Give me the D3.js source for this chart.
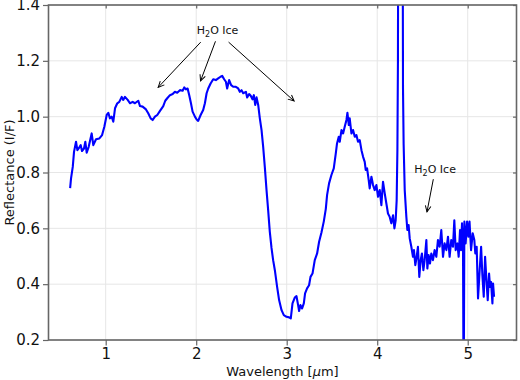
<!DOCTYPE html>
<html><head><meta charset="utf-8">
<script src="https://cdn.jsdelivr.net/npm/d3@7"></script>
<style>
html,body{margin:0;padding:0;background:#fff;}
svg{display:block;font-family:"DejaVu Sans",sans-serif;}
</style></head>
<body>
<svg id="chart" width="520" height="380"></svg>
<script>
const wavelength = [0.607,0.617,0.636,0.65,0.672,0.687,0.709,0.724,0.738,0.76,0.775,0.79,0.812,0.845,0.863,0.893,0.93,0.96,0.985,1.011,1.029,1.047,1.066,1.084,1.103,1.128,1.15,1.177,1.194,1.213,1.243,1.268,1.298,1.323,1.36,1.379,1.408,1.445,1.47,1.497,1.519,1.544,1.57,1.6,1.636,1.658,1.68,1.71,1.74,1.765,1.79,1.82,1.85,1.868,1.886,1.905,1.923,1.942,1.96,1.986,2.005,2.022,2.049,2.077,2.096,2.115,2.133,2.159,2.188,2.217,2.243,2.269,2.287,2.309,2.328,2.342,2.364,2.386,2.409,2.438,2.464,2.482,2.501,2.519,2.549,2.563,2.585,2.604,2.622,2.637,2.652,2.667,2.685,2.703,2.722,2.74,2.758,2.777,2.795,2.813,2.832,2.85,2.869,2.894,2.916,2.943,2.968,2.998,3.027,3.045,3.064,3.089,3.108,3.126,3.137,3.152,3.17,3.189,3.203,3.225,3.247,3.263,3.285,3.31,3.336,3.358,3.384,3.41,3.432,3.446,3.468,3.494,3.52,3.542,3.556,3.575,3.586,3.605,3.623,3.641,3.66,3.671,3.686,3.696,3.715,3.733,3.752,3.77,3.788,3.807,3.826,3.844,3.862,3.873,3.888,3.906,3.917,3.936,3.954,3.972,3.991,4.009,4.028,4.046,4.064,4.083,4.101,4.119,4.138,4.156,4.175,4.19,4.204,4.215,4.223,4.229,4.233,4.28,4.285,4.292,4.304,4.322,4.333,4.347,4.359,4.377,4.395,4.406,4.421,4.436,4.45,4.465,4.48,4.494,4.51,4.524,4.543,4.554,4.568,4.583,4.598,4.616,4.634,4.653,4.671,4.69,4.708,4.727,4.745,4.764,4.782,4.8,4.818,4.837,4.852,4.867,4.886,4.9,4.915,4.926,4.937,4.948,4.953,4.957,4.963,4.977,4.993,5.007,5.02,5.037,5.055,5.073,5.084,5.099,5.114,5.132,5.148,5.162,5.177,5.192,5.207,5.221,5.236,5.247,5.258,5.273,5.28,5.291];
const reflectance = [0.744,0.779,0.82,0.874,0.91,0.88,0.89,0.898,0.877,0.886,0.91,0.871,0.892,0.94,0.898,0.919,0.922,0.934,0.964,1.006,1.014,0.994,1.0,0.982,1.03,1.048,1.053,1.071,1.06,1.071,1.06,1.048,1.053,1.048,1.057,1.038,1.036,1.026,1.012,0.994,0.988,1.0,1.006,1.021,1.038,1.057,1.066,1.077,1.081,1.089,1.086,1.095,1.093,1.105,1.098,1.101,1.077,1.048,1.018,1.0,0.99,0.985,1.006,1.024,1.048,1.084,1.101,1.119,1.134,1.131,1.137,1.143,1.146,1.134,1.125,1.101,1.131,1.113,1.107,1.107,1.101,1.089,1.095,1.084,1.089,1.069,1.081,1.074,1.062,1.077,1.042,1.069,1.042,0.994,0.952,0.892,0.82,0.737,0.665,0.588,0.53,0.486,0.45,0.39,0.343,0.307,0.289,0.283,0.281,0.277,0.331,0.352,0.357,0.325,0.304,0.325,0.313,0.331,0.367,0.385,0.396,0.426,0.438,0.486,0.51,0.552,0.585,0.625,0.67,0.719,0.761,0.791,0.815,0.868,0.904,0.928,0.91,0.952,0.94,0.964,0.988,1.014,0.97,0.994,0.94,0.952,0.928,0.934,0.91,0.916,0.88,0.856,0.838,0.809,0.815,0.773,0.743,0.785,0.755,0.737,0.755,0.713,0.737,0.683,0.767,0.725,0.689,0.653,0.641,0.618,0.647,0.6,0.629,0.701,0.88,1.2,1.9,1.9,1.1,0.9,0.737,0.641,0.594,0.612,0.564,0.534,0.498,0.522,0.468,0.498,0.534,0.426,0.486,0.51,0.45,0.486,0.558,0.456,0.504,0.474,0.51,0.486,0.522,0.498,0.558,0.534,0.594,0.498,0.546,0.522,0.57,0.498,0.558,0.534,0.629,0.522,0.546,0.498,0.594,0.522,0.618,0.534,0.1,0.1,0.624,0.546,0.624,0.57,0.624,0.522,0.582,0.558,0.51,0.534,0.349,0.45,0.534,0.432,0.355,0.498,0.414,0.343,0.438,0.39,0.408,0.331,0.402,0.355];
const xTicks = [1,2,3,4,5];
const yTicks = [0.2,0.4,0.6,0.8,1.0,1.2,1.4];
const xLabelParts = ["Wavelength [", "μ", "m]"];
const yLabel = "Reflectance (I/F)";
const annoText = ["H", "2", "O Ice"];
const annoTop = {text:[2.236,1.31], tips:[[1.58,1.105],[2.048,1.128],[3.082,1.056]], starts:[[2.05,1.267],[2.213,1.27],[2.358,1.267]]};
const annoRight = {text:[4.64,0.812], tips:[[4.55,0.659]], starts:[[4.62,0.776]]};

const svg = d3.select("#chart");
const L = 48.5, R = 516.5, T = 5, B = 340;
const x = d3.scaleLinear().domain([0.368, 5.539]).range([L, R]);
const y = d3.scaleLinear().domain([0.2, 1.4]).range([B, T]);

svg.append("defs").append("clipPath").attr("id","clip")
  .append("rect").attr("x",L).attr("y",T).attr("width",R-L).attr("height",B-T);
svg.select("defs").append("marker").attr("id","arr")
  .attr("viewBox","-7 -4 8 8").attr("refX",0).attr("refY",0)
  .attr("markerWidth",8).attr("markerHeight",8).attr("markerUnits","userSpaceOnUse")
  .attr("orient","auto")
  .append("path").attr("d","M-6,-2.8 L0,0 L-6,2.8").attr("fill","none").attr("stroke","#000").attr("stroke-width",1);

// grid
const grid = svg.append("g").attr("stroke","#e6e6e6").attr("stroke-width",1);
xTicks.forEach(t => grid.append("line").attr("x1",x(t)).attr("x2",x(t)).attr("y1",T).attr("y2",B));
yTicks.forEach(t => grid.append("line").attr("x1",L).attr("x2",R).attr("y1",y(t)).attr("y2",y(t)));

// line
const data = wavelength.map((w,i)=>[w, reflectance[i]]);
svg.append("path").datum(data).attr("clip-path","url(#clip)")
  .attr("fill","none").attr("stroke","#0000ff").attr("stroke-width",2.1)
  .attr("stroke-linejoin","round")
  .attr("d", d3.line().x(d=>x(d[0])).y(d=>y(d[1])));

// axes
const axisColor = "#666";
function styleAxis(g, showText){
  g.select(".domain").remove();
  g.selectAll(".tick line").attr("stroke",axisColor).attr("stroke-width",1.2);
  g.selectAll(".tick text").attr("fill","#111").style("font-size","15px").style("font-family","DejaVu Sans");
  if(!showText) g.selectAll(".tick text").remove();
}
svg.append("g").attr("transform",`translate(0,${B})`)
  .call(d3.axisBottom(x).tickValues(xTicks).tickFormat(d3.format("d")).tickSizeInner(5.5).tickSizeOuter(0).tickPadding(3))
  .call(g=>styleAxis(g,true));
svg.append("g").attr("transform",`translate(${L},0)`)
  .call(d3.axisLeft(y).tickValues(yTicks).tickFormat(d3.format(".1f")).tickSizeInner(5.5).tickSizeOuter(0).tickPadding(3))
  .call(g=>styleAxis(g,true));
svg.append("g").attr("transform",`translate(0,${T})`)
  .call(d3.axisBottom(x).tickValues(xTicks).tickSizeInner(3.5).tickSizeOuter(0))
  .call(g=>styleAxis(g,false));
svg.append("g").attr("transform",`translate(${R},0)`)
  .call(d3.axisRight(y).tickValues(yTicks).tickSizeInner(-3.5).tickSizeOuter(0))
  .call(g=>styleAxis(g,false));
svg.selectAll("g .tick text").attr("font-family",null);

// spines
svg.append("rect").attr("x",L).attr("y",T).attr("width",R-L).attr("height",B-T)
  .attr("fill","none").attr("stroke",axisColor).attr("stroke-width",1.6);

// labels
const xl = svg.append("text").attr("x",(L+R)/2).attr("y",376).attr("text-anchor","middle")
  .style("font-size","13px").attr("fill","#111");
xl.append("tspan").text(xLabelParts[0]);
xl.append("tspan").style("font-style","italic").text(xLabelParts[1]);
xl.append("tspan").text(xLabelParts[2]);
svg.append("text").attr("transform",`translate(14,${(T+B)/2}) rotate(-90)`).attr("text-anchor","middle")
  .style("font-size","13px").attr("fill","#111").text(yLabel);

// annotations
function anno(a){
  const t = svg.append("text").attr("x",x(a.text[0])).attr("y",y(a.text[1])+4)
    .attr("text-anchor","middle").style("font-size","11px").attr("fill","#111");
  t.append("tspan").text(annoText[0]);
  t.append("tspan").attr("dy",3).style("font-size","8px").text(annoText[1]);
  t.append("tspan").attr("dy",-3).text(annoText[2]);
  a.tips.forEach((tip,i)=>{
    const s = a.starts[i];
    svg.append("line").attr("x1",x(s[0])).attr("y1",y(s[1])).attr("x2",x(tip[0])).attr("y2",y(tip[1]))
      .attr("stroke","#000").attr("stroke-width",1).attr("marker-end","url(#arr)");
  });
}
anno(annoTop);
anno(annoRight);
</script>
</body></html>
